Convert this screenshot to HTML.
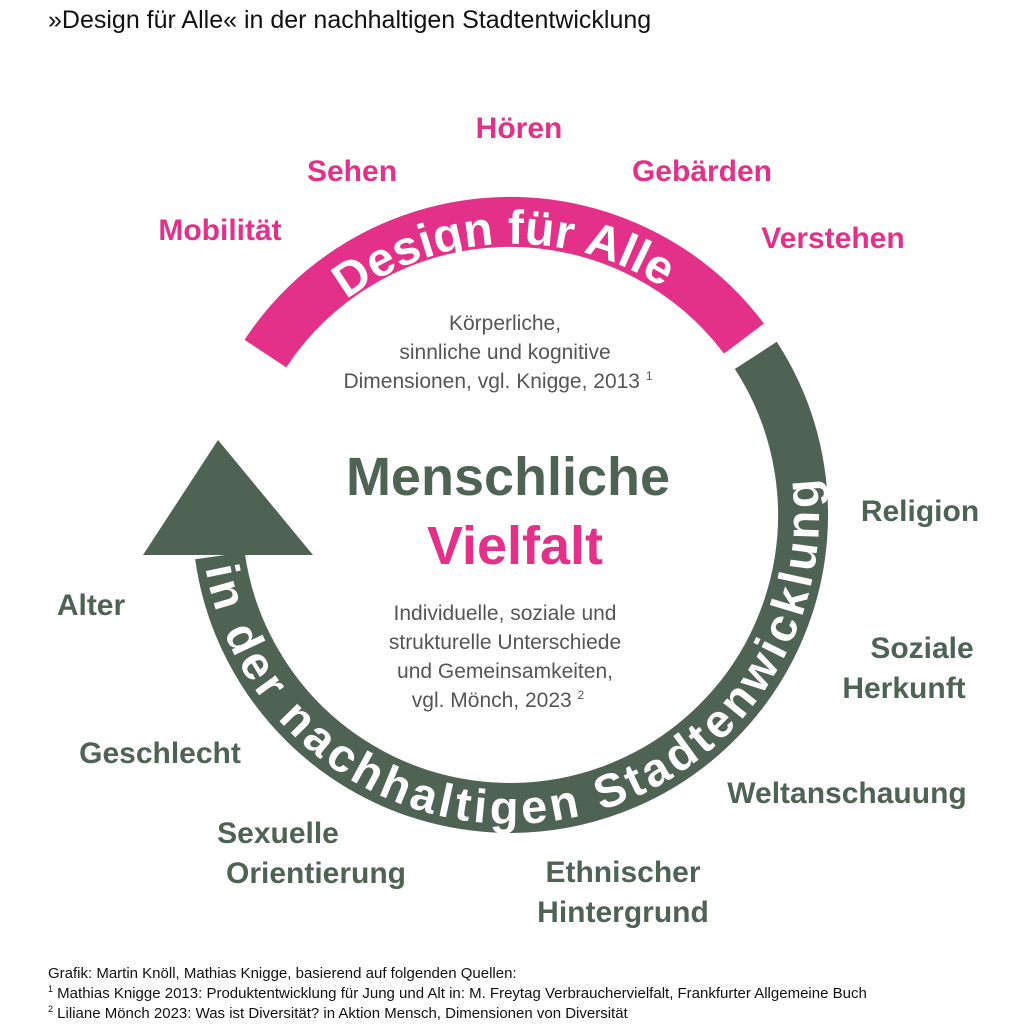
<!DOCTYPE html>
<html><head><meta charset="utf-8"><style>
html,body{margin:0;padding:0;background:#fff;}
svg{display:block}
text{font-family:"Liberation Sans",sans-serif;}
</style></head><body>
<svg width="1024" height="1024" viewBox="0 0 1024 1024" xmlns="http://www.w3.org/2000/svg">
<defs>
<path id="pt" d="M283.2,366.8 A277,277 0 0 1 731.3,349.7"/>
<path id="gt" d="M204,558 A309,309 0 1 0 769.2,346.7"/>
</defs>
<text x="48" y="28" font-size="25" fill="#111">»Design für Alle« in der nachhaltigen Stadtentwicklung</text>

<path d="M265.4,353.6 A293,293 0 0 1 744,338.6" fill="none" stroke="#e3318a" stroke-width="50"/>
<path d="M755.8,355.4 A293,293 0 1 1 219.9,555.8" fill="none" stroke="#4f6355" stroke-width="50"/>
<polygon points="218,440 143,555 313,555" fill="#4f6355"/>

<text font-size="48" font-weight="bold" fill="#fff" text-anchor="middle"><textPath href="#pt" startOffset="50%">Design für Alle</textPath></text>
<text font-size="47" font-weight="bold" fill="#fff" letter-spacing="4"><textPath href="#gt" startOffset="10">in der nachhaltigen Stadtenwicklung</textPath></text>

<g font-size="30" font-weight="bold" fill="#e3318a" text-anchor="middle">
<text x="519" y="138">Hören</text>
<text x="352" y="181">Sehen</text>
<text x="702" y="181">Gebärden</text>
<text x="220" y="240">Mobilität</text>
<text x="833" y="248">Verstehen</text>
</g>
<g font-size="30" font-weight="bold" fill="#4f6355" text-anchor="middle">
<text x="920" y="521">Religion</text>
<text x="922" y="658">Soziale</text>
<text x="904" y="698">Herkunft</text>
<text x="847" y="803">Weltanschauung</text>
<text x="623" y="882">Ethnischer</text>
<text x="623" y="922">Hintergrund</text>
<text x="278" y="843">Sexuelle</text>
<text x="316" y="883">Orientierung</text>
<text x="160" y="763">Geschlecht</text>
<text x="91" y="615">Alter</text>
</g>

<text x="508" y="495" font-size="54" font-weight="bold" fill="#4f6355" text-anchor="middle">Menschliche</text>
<text x="515" y="564" font-size="54" font-weight="bold" fill="#e3318a" text-anchor="middle">Vielfalt</text>

<g font-size="21" fill="#555" text-anchor="middle">
<text x="505" y="330">Körperliche,</text>
<text x="505" y="359">sinnliche und kognitive</text>
<text x="498" y="388">Dimensionen, vgl. Knigge, 2013 <tspan font-size="12" dy="-8">1</tspan></text>
<text x="505" y="620">Individuelle, soziale und</text>
<text x="505" y="649">strukturelle Unterschiede</text>
<text x="505" y="678">und Gemeinsamkeiten,</text>
<text x="498" y="707">vgl. Mönch, 2023 <tspan font-size="12" dy="-8">2</tspan></text>
</g>

<g font-size="15" fill="#111">
<text x="48" y="978">Grafik: Martin Knöll, Mathias Knigge, basierend auf folgenden Quellen:</text>
<text x="48" y="998"><tspan font-size="9" dy="-6">1</tspan><tspan dy="6"> Mathias Knigge 2013: Produktentwicklung für Jung und Alt in: M. Freytag Verbrauchervielfalt, Frankfurter Allgemeine Buch</tspan></text>
<text x="48" y="1018"><tspan font-size="9" dy="-6">2</tspan><tspan dy="6"> Liliane Mönch 2023: Was ist Diversität? in Aktion Mensch, Dimensionen von Diversität</tspan></text>
</g>
</svg>
</body></html>
